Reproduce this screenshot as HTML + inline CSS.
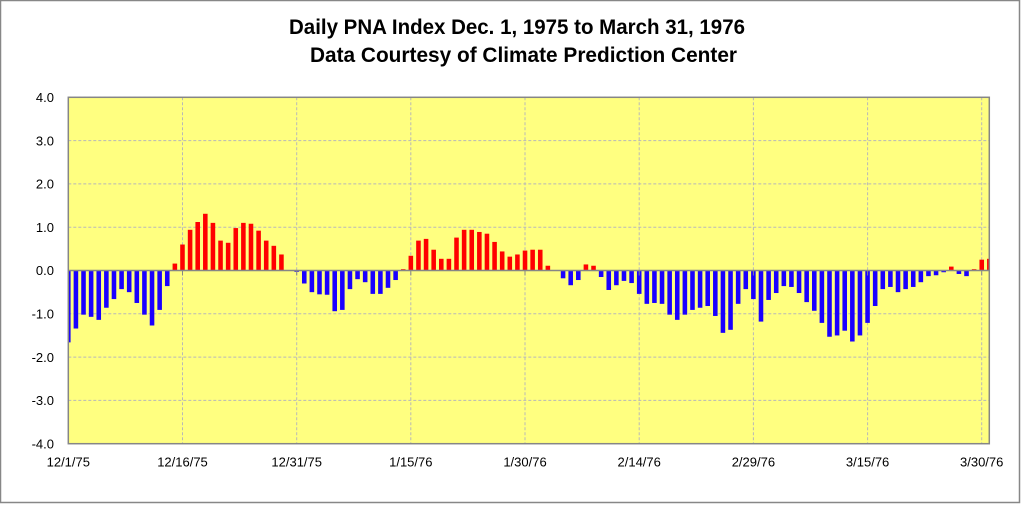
<!DOCTYPE html>
<html><head><meta charset="utf-8"><style>
html,body{margin:0;padding:0;background:#fff;}
svg{display:block;}
text{font-family:"Liberation Sans",sans-serif;}
</style></head><body>
<svg width="1023" height="505" viewBox="0 0 1023 505" xmlns="http://www.w3.org/2000/svg">
<rect x="0" y="0" width="1023" height="505" fill="#fff"/>
<rect x="0.5" y="0.5" width="1019" height="502" fill="#fff" stroke="#878787" stroke-width="1.5"/>
<text x="517" y="34" font-size="21" font-weight="bold" text-anchor="middle" textLength="456" lengthAdjust="spacingAndGlyphs">Daily PNA Index Dec. 1, 1975 to March 31, 1976</text>
<text x="523.5" y="62" font-size="21" font-weight="bold" text-anchor="middle" textLength="427" lengthAdjust="spacingAndGlyphs">Data Courtesy of Climate Prediction Center</text>
<rect x="68.3" y="97.3" width="921" height="346.4" fill="#ffff80"/>
<g stroke="#b8b8b8" stroke-width="1" stroke-dasharray="3,2" fill="none">
<line x1="68.3" x2="989.3" y1="97.3" y2="97.3"/>
<line x1="68.3" x2="989.3" y1="140.6" y2="140.6"/>
<line x1="68.3" x2="989.3" y1="183.9" y2="183.9"/>
<line x1="68.3" x2="989.3" y1="227.2" y2="227.2"/>
<line x1="68.3" x2="989.3" y1="313.8" y2="313.8"/>
<line x1="68.3" x2="989.3" y1="357.1" y2="357.1"/>
<line x1="68.3" x2="989.3" y1="400.4" y2="400.4"/>
<line x1="182.5" x2="182.5" y1="97.3" y2="443.7"/>
<line x1="296.7" x2="296.7" y1="97.3" y2="443.7"/>
<line x1="410.8" x2="410.8" y1="97.3" y2="443.7"/>
<line x1="525" x2="525" y1="97.3" y2="443.7"/>
<line x1="639.2" x2="639.2" y1="97.3" y2="443.7"/>
<line x1="753.4" x2="753.4" y1="97.3" y2="443.7"/>
<line x1="867.6" x2="867.6" y1="97.3" y2="443.7"/>
<line x1="981.7" x2="981.7" y1="97.3" y2="443.7"/>
</g>
<defs><clipPath id="pc"><rect x="0" y="-4" width="121" height="8"/></clipPath></defs>
<g transform="translate(68.3,270.5) scale(7.612,-43.3)" clip-path="url(#pc)">
<g fill="#1a00ff">
<rect x="-0.3" y="-1.66" width="0.6" height="1.66"/>
<rect x="0.7" y="-1.34" width="0.6" height="1.34"/>
<rect x="1.7" y="-1.02" width="0.6" height="1.02"/>
<rect x="2.7" y="-1.07" width="0.6" height="1.07"/>
<rect x="3.7" y="-1.14" width="0.6" height="1.14"/>
<rect x="4.7" y="-0.86" width="0.6" height="0.86"/>
<rect x="5.7" y="-0.66" width="0.6" height="0.66"/>
<rect x="6.7" y="-0.43" width="0.6" height="0.43"/>
<rect x="7.7" y="-0.50" width="0.6" height="0.50"/>
<rect x="8.7" y="-0.75" width="0.6" height="0.75"/>
<rect x="9.7" y="-1.02" width="0.6" height="1.02"/>
<rect x="10.7" y="-1.27" width="0.6" height="1.27"/>
<rect x="11.7" y="-0.91" width="0.6" height="0.91"/>
<rect x="12.7" y="-0.36" width="0.6" height="0.36"/>
<rect x="29.7" y="-0.03" width="0.6" height="0.03"/>
<rect x="30.7" y="-0.30" width="0.6" height="0.30"/>
<rect x="31.7" y="-0.50" width="0.6" height="0.50"/>
<rect x="32.7" y="-0.55" width="0.6" height="0.55"/>
<rect x="33.7" y="-0.56" width="0.6" height="0.56"/>
<rect x="34.7" y="-0.94" width="0.6" height="0.94"/>
<rect x="35.7" y="-0.91" width="0.6" height="0.91"/>
<rect x="36.7" y="-0.43" width="0.6" height="0.43"/>
<rect x="37.7" y="-0.20" width="0.6" height="0.20"/>
<rect x="38.7" y="-0.27" width="0.6" height="0.27"/>
<rect x="39.7" y="-0.54" width="0.6" height="0.54"/>
<rect x="40.7" y="-0.54" width="0.6" height="0.54"/>
<rect x="41.7" y="-0.40" width="0.6" height="0.40"/>
<rect x="42.7" y="-0.22" width="0.6" height="0.22"/>
<rect x="64.7" y="-0.18" width="0.6" height="0.18"/>
<rect x="65.7" y="-0.34" width="0.6" height="0.34"/>
<rect x="66.7" y="-0.22" width="0.6" height="0.22"/>
<rect x="69.7" y="-0.15" width="0.6" height="0.15"/>
<rect x="70.7" y="-0.45" width="0.6" height="0.45"/>
<rect x="71.7" y="-0.34" width="0.6" height="0.34"/>
<rect x="72.7" y="-0.24" width="0.6" height="0.24"/>
<rect x="73.7" y="-0.29" width="0.6" height="0.29"/>
<rect x="74.7" y="-0.54" width="0.6" height="0.54"/>
<rect x="75.7" y="-0.77" width="0.6" height="0.77"/>
<rect x="76.7" y="-0.75" width="0.6" height="0.75"/>
<rect x="77.7" y="-0.77" width="0.6" height="0.77"/>
<rect x="78.7" y="-1.02" width="0.6" height="1.02"/>
<rect x="79.7" y="-1.14" width="0.6" height="1.14"/>
<rect x="80.7" y="-1.02" width="0.6" height="1.02"/>
<rect x="81.7" y="-0.91" width="0.6" height="0.91"/>
<rect x="82.7" y="-0.86" width="0.6" height="0.86"/>
<rect x="83.7" y="-0.82" width="0.6" height="0.82"/>
<rect x="84.7" y="-1.05" width="0.6" height="1.05"/>
<rect x="85.7" y="-1.44" width="0.6" height="1.44"/>
<rect x="86.7" y="-1.37" width="0.6" height="1.37"/>
<rect x="87.7" y="-0.77" width="0.6" height="0.77"/>
<rect x="88.7" y="-0.43" width="0.6" height="0.43"/>
<rect x="89.7" y="-0.66" width="0.6" height="0.66"/>
<rect x="90.7" y="-1.18" width="0.6" height="1.18"/>
<rect x="91.7" y="-0.68" width="0.6" height="0.68"/>
<rect x="92.7" y="-0.52" width="0.6" height="0.52"/>
<rect x="93.7" y="-0.36" width="0.6" height="0.36"/>
<rect x="94.7" y="-0.38" width="0.6" height="0.38"/>
<rect x="95.7" y="-0.52" width="0.6" height="0.52"/>
<rect x="96.7" y="-0.73" width="0.6" height="0.73"/>
<rect x="97.7" y="-0.93" width="0.6" height="0.93"/>
<rect x="98.7" y="-1.21" width="0.6" height="1.21"/>
<rect x="99.7" y="-1.53" width="0.6" height="1.53"/>
<rect x="100.7" y="-1.50" width="0.6" height="1.50"/>
<rect x="101.7" y="-1.39" width="0.6" height="1.39"/>
<rect x="102.7" y="-1.64" width="0.6" height="1.64"/>
<rect x="103.7" y="-1.50" width="0.6" height="1.50"/>
<rect x="104.7" y="-1.21" width="0.6" height="1.21"/>
<rect x="105.7" y="-0.82" width="0.6" height="0.82"/>
<rect x="106.7" y="-0.43" width="0.6" height="0.43"/>
<rect x="107.7" y="-0.38" width="0.6" height="0.38"/>
<rect x="108.7" y="-0.50" width="0.6" height="0.50"/>
<rect x="109.7" y="-0.43" width="0.6" height="0.43"/>
<rect x="110.7" y="-0.38" width="0.6" height="0.38"/>
<rect x="111.7" y="-0.27" width="0.6" height="0.27"/>
<rect x="112.7" y="-0.13" width="0.6" height="0.13"/>
<rect x="113.7" y="-0.11" width="0.6" height="0.11"/>
<rect x="114.7" y="-0.04" width="0.6" height="0.04"/>
<rect x="116.7" y="-0.08" width="0.6" height="0.08"/>
<rect x="117.7" y="-0.13" width="0.6" height="0.13"/>
</g>
<g fill="#ff0000">
<rect x="13.7" y="0" width="0.6" height="0.16"/>
<rect x="14.7" y="0" width="0.6" height="0.60"/>
<rect x="15.7" y="0" width="0.6" height="0.94"/>
<rect x="16.7" y="0" width="0.6" height="1.12"/>
<rect x="17.7" y="0" width="0.6" height="1.31"/>
<rect x="18.7" y="0" width="0.6" height="1.10"/>
<rect x="19.7" y="0" width="0.6" height="0.69"/>
<rect x="20.7" y="0" width="0.6" height="0.64"/>
<rect x="21.7" y="0" width="0.6" height="0.98"/>
<rect x="22.7" y="0" width="0.6" height="1.10"/>
<rect x="23.7" y="0" width="0.6" height="1.08"/>
<rect x="24.7" y="0" width="0.6" height="0.92"/>
<rect x="25.7" y="0" width="0.6" height="0.69"/>
<rect x="26.7" y="0" width="0.6" height="0.57"/>
<rect x="27.7" y="0" width="0.6" height="0.37"/>
<rect x="43.7" y="0" width="0.6" height="0.03"/>
<rect x="44.7" y="0" width="0.6" height="0.34"/>
<rect x="45.7" y="0" width="0.6" height="0.69"/>
<rect x="46.7" y="0" width="0.6" height="0.73"/>
<rect x="47.7" y="0" width="0.6" height="0.48"/>
<rect x="48.7" y="0" width="0.6" height="0.27"/>
<rect x="49.7" y="0" width="0.6" height="0.27"/>
<rect x="50.7" y="0" width="0.6" height="0.76"/>
<rect x="51.7" y="0" width="0.6" height="0.94"/>
<rect x="52.7" y="0" width="0.6" height="0.94"/>
<rect x="53.7" y="0" width="0.6" height="0.89"/>
<rect x="54.7" y="0" width="0.6" height="0.85"/>
<rect x="55.7" y="0" width="0.6" height="0.66"/>
<rect x="56.7" y="0" width="0.6" height="0.44"/>
<rect x="57.7" y="0" width="0.6" height="0.32"/>
<rect x="58.7" y="0" width="0.6" height="0.37"/>
<rect x="59.7" y="0" width="0.6" height="0.46"/>
<rect x="60.7" y="0" width="0.6" height="0.48"/>
<rect x="61.7" y="0" width="0.6" height="0.48"/>
<rect x="62.7" y="0" width="0.6" height="0.11"/>
<rect x="67.7" y="0" width="0.6" height="0.14"/>
<rect x="68.7" y="0" width="0.6" height="0.11"/>
<rect x="115.7" y="0" width="0.6" height="0.09"/>
<rect x="118.7" y="0" width="0.6" height="0.03"/>
<rect x="119.7" y="0" width="0.6" height="0.25"/>
<rect x="120.7" y="0" width="0.6" height="0.27"/>
</g>
</g>
<line x1="68.3" x2="989.3" y1="270.5" y2="270.5" stroke="#868686" stroke-width="1.5"/>
<g stroke="#868686" stroke-width="1">
<line x1="182.5" x2="182.5" y1="270.5" y2="275.5"/>
<line x1="296.7" x2="296.7" y1="270.5" y2="275.5"/>
<line x1="410.8" x2="410.8" y1="270.5" y2="275.5"/>
<line x1="525" x2="525" y1="270.5" y2="275.5"/>
<line x1="639.2" x2="639.2" y1="270.5" y2="275.5"/>
<line x1="753.4" x2="753.4" y1="270.5" y2="275.5"/>
<line x1="867.6" x2="867.6" y1="270.5" y2="275.5"/>
<line x1="981.7" x2="981.7" y1="270.5" y2="275.5"/>
</g>
<rect x="68.3" y="97.3" width="921" height="346.4" fill="none" stroke="#868686" stroke-width="1.5"/>
<g font-size="13" fill="#000" text-anchor="end">
<text x="54" y="102">4.0</text>
<text x="54" y="145.3">3.0</text>
<text x="54" y="188.6">2.0</text>
<text x="54" y="231.9">1.0</text>
<text x="54" y="275.2">0.0</text>
<text x="54" y="318.5">-1.0</text>
<text x="54" y="361.8">-2.0</text>
<text x="54" y="405.1">-3.0</text>
<text x="54" y="448.4">-4.0</text>
</g>
<g font-size="13" fill="#000" text-anchor="middle">
<text x="68.3" y="466.5">12/1/75</text>
<text x="182.5" y="466.5">12/16/75</text>
<text x="296.7" y="466.5">12/31/75</text>
<text x="410.8" y="466.5">1/15/76</text>
<text x="525" y="466.5">1/30/76</text>
<text x="639.2" y="466.5">2/14/76</text>
<text x="753.4" y="466.5">2/29/76</text>
<text x="867.6" y="466.5">3/15/76</text>
<text x="981.7" y="466.5">3/30/76</text>
</g>
</svg>
</body></html>
